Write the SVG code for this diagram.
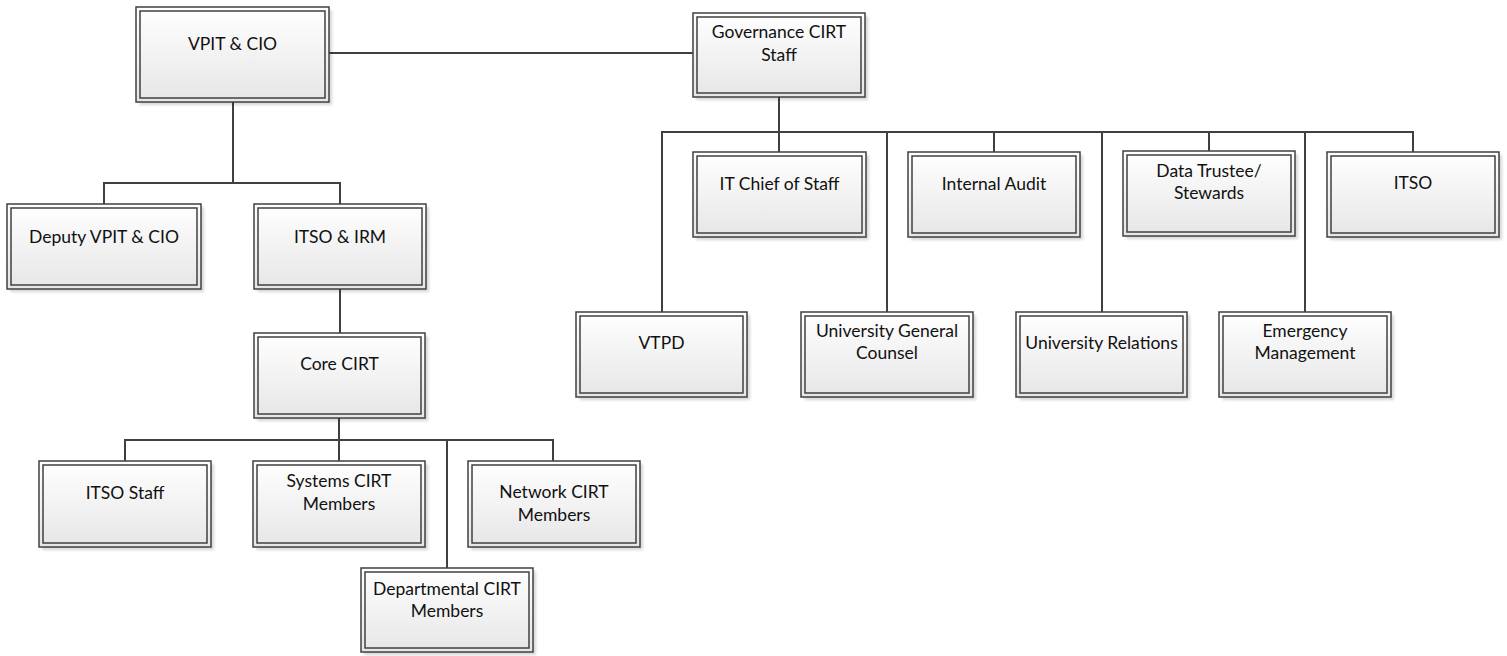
<svg xmlns="http://www.w3.org/2000/svg" width="1507" height="656" viewBox="0 0 1507 656">
<defs>
<linearGradient id="g" x1="0" y1="0" x2="0" y2="1">
<stop offset="0" stop-color="#ffffff"/>
<stop offset="1" stop-color="#e6e6e6"/>
</linearGradient>
<filter id="sh" x="-10%" y="-10%" width="130%" height="140%">
<feGaussianBlur stdDeviation="1.5"/>
</filter>
</defs>
<style>
.sh{fill:#000;opacity:.16;filter:url(#sh)}
.o{fill:url(#g);stroke:#404040;stroke-width:1.5}
.i{fill:none;stroke:#404040;stroke-width:1.5}
.t{font-family:Lato,"Liberation Sans",sans-serif;font-size:17.5px;fill:#111;text-anchor:middle}
.c{fill:none;stroke:#404040;stroke-width:2}
</style>
<g id="connectors">
<path class="c" d="M329,53H693"/>
<path class="c" d="M233,102V183M104,204V183H340V204"/>
<path class="c" d="M340,289V333"/>
<path class="c" d="M339,418V440M125,461V440H553V461M339,440V461M447,440V568"/>
<path class="c" d="M779,97V132M662,312V132H1413V152M779,132V152M887,132V312M994,132V152M1102,132V312M1209,132V151M1305,132V312"/>
</g>
<g id="vpit"><rect class="sh" x="139" y="10" width="193" height="95"/><rect class="o" x="136" y="7" width="193" height="95"/><rect class="i" x="140" y="11" width="185" height="87"/><text class="t" x="232.5" y="50">VPIT &amp; CIO</text></g>
<g id="governance"><rect class="sh" x="696" y="16" width="172" height="84"/><rect class="o" x="693" y="13" width="172" height="84"/><rect class="i" x="697" y="17" width="164" height="76"/><text class="t" x="779" y="38">Governance CIRT</text><text class="t" x="779" y="61">Staff</text></g>
<g id="deputy"><rect class="sh" x="10" y="207" width="194" height="85"/><rect class="o" x="7" y="204" width="194" height="85"/><rect class="i" x="11" y="208" width="186" height="77"/><text class="t" x="104" y="243">Deputy VPIT &amp; CIO</text></g>
<g id="itsoirm"><rect class="sh" x="257" y="207" width="172" height="85"/><rect class="o" x="254" y="204" width="172" height="85"/><rect class="i" x="258" y="208" width="164" height="77"/><text class="t" x="340" y="243">ITSO &amp; IRM</text></g>
<g id="core"><rect class="sh" x="257" y="336" width="171" height="85"/><rect class="o" x="254" y="333" width="171" height="85"/><rect class="i" x="258" y="337" width="163" height="77"/><text class="t" x="339.5" y="370">Core CIRT</text></g>
<g id="itsostaff"><rect class="sh" x="42" y="464" width="172" height="86"/><rect class="o" x="39" y="461" width="172" height="86"/><rect class="i" x="43" y="465" width="164" height="78"/><text class="t" x="125" y="499">ITSO Staff</text></g>
<g id="systems"><rect class="sh" x="256" y="464" width="172" height="86"/><rect class="o" x="253" y="461" width="172" height="86"/><rect class="i" x="257" y="465" width="164" height="78"/><text class="t" x="339" y="487">Systems CIRT</text><text class="t" x="339" y="510">Members</text></g>
<g id="network"><rect class="sh" x="471" y="464" width="172" height="86"/><rect class="o" x="468" y="461" width="172" height="86"/><rect class="i" x="472" y="465" width="164" height="78"/><text class="t" x="554" y="498">Network CIRT</text><text class="t" x="554" y="521">Members</text></g>
<g id="departmental"><rect class="sh" x="364" y="571" width="172" height="84"/><rect class="o" x="361" y="568" width="172" height="84"/><rect class="i" x="365" y="572" width="164" height="76"/><text class="t" x="447" y="595">Departmental CIRT</text><text class="t" x="447" y="617">Members</text></g>
<g id="itchief"><rect class="sh" x="696" y="155" width="173" height="85"/><rect class="o" x="693" y="152" width="173" height="85"/><rect class="i" x="697" y="156" width="165" height="77"/><text class="t" x="779.5" y="190">IT Chief of Staff</text></g>
<g id="audit"><rect class="sh" x="911" y="155" width="172" height="85"/><rect class="o" x="908" y="152" width="172" height="85"/><rect class="i" x="912" y="156" width="164" height="77"/><text class="t" x="994" y="190">Internal Audit</text></g>
<g id="datatrustee"><rect class="sh" x="1126" y="154" width="172" height="85"/><rect class="o" x="1123" y="151" width="172" height="85"/><rect class="i" x="1127" y="155" width="164" height="77"/><text class="t" x="1209" y="177">Data Trustee/</text><text class="t" x="1209" y="199">Stewards</text></g>
<g id="itso"><rect class="sh" x="1330" y="155" width="172" height="85"/><rect class="o" x="1327" y="152" width="172" height="85"/><rect class="i" x="1331" y="156" width="164" height="77"/><text class="t" x="1413" y="189">ITSO</text></g>
<g id="vtpd"><rect class="sh" x="579" y="315" width="171" height="85"/><rect class="o" x="576" y="312" width="171" height="85"/><rect class="i" x="580" y="316" width="163" height="77"/><text class="t" x="661.5" y="349">VTPD</text></g>
<g id="counsel"><rect class="sh" x="804" y="315" width="172" height="85"/><rect class="o" x="801" y="312" width="172" height="85"/><rect class="i" x="805" y="316" width="164" height="77"/><text class="t" x="887" y="337">University General</text><text class="t" x="887" y="359">Counsel</text></g>
<g id="relations"><rect class="sh" x="1019" y="315" width="171" height="85"/><rect class="o" x="1016" y="312" width="171" height="85"/><rect class="i" x="1020" y="316" width="163" height="77"/><text class="t" x="1101.5" y="349">University Relations</text></g>
<g id="emergency"><rect class="sh" x="1222" y="315" width="172" height="85"/><rect class="o" x="1219" y="312" width="172" height="85"/><rect class="i" x="1223" y="316" width="164" height="77"/><text class="t" x="1305" y="337">Emergency</text><text class="t" x="1305" y="359">Management</text></g>
</svg>
